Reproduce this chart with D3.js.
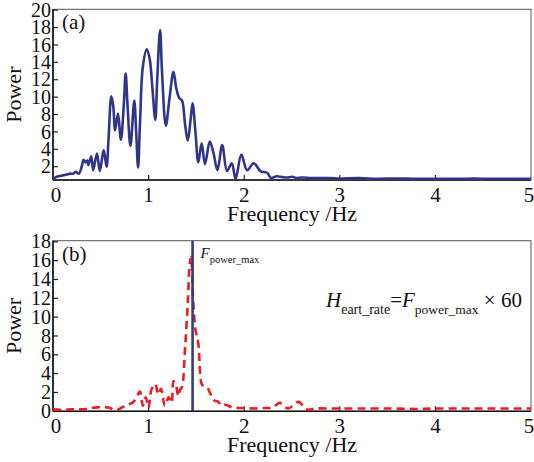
<!DOCTYPE html>
<html>
<head>
<meta charset="utf-8">
<script src="https://cdn.jsdelivr.net/npm/d3@7/dist/d3.min.js"></script>
<style>
  body { margin: 0; background: #fff; }
</style>
</head>
<body>
<div id="chart"></div>
<script>
// panel (a): power spectrum of the raw signal
var freqA  = [0, 0.03, 0.06, 0.10, 0.14, 0.18, 0.21, 0.24, 0.27, 0.30, 0.32, 0.34, 0.36, 0.37, 0.40, 0.42, 0.46, 0.49, 0.53, 0.56,
              0.58, 0.61, 0.63, 0.65, 0.68, 0.71, 0.74, 0.76, 0.78, 0.81, 0.85, 0.87, 0.89, 0.91, 0.94, 0.98, 1.01, 1.04, 1.07, 1.09,
              1.12, 1.14, 1.18, 1.22, 1.26, 1.29, 1.32, 1.35, 1.38, 1.41, 1.44, 1.46, 1.49, 1.52, 1.555, 1.59, 1.64, 1.68, 1.72, 1.77,
              1.82, 1.87, 1.91, 1.97, 2.03, 2.10, 2.17, 2.24, 2.28, 2.34, 2.40, 2.45, 2.50, 2.55, 2.60, 2.70, 2.80, 2.90, 3.00, 3.20,
              3.40, 3.60, 3.80, 4.00, 4.20, 4.40, 4.60, 4.80, 5.00];
var powerA = [0.5, 0.8, 0.9, 1.0, 1.1, 1.2, 1.2, 1.4, 1.2, 2.0, 2.8, 2.5, 2.7, 2.2, 3.2, 1.6, 3.5, 1.5, 3.9, 2.0,
              5.0, 10.1, 9.0, 6.2, 8.1, 5.1, 9.0, 12.7, 9.0, 4.4, 9.6, 6.0, 1.9, 7.0, 13.5, 15.5, 14.5, 11.0, 7.4, 12.0,
              17.7, 13.0, 6.7, 10.0, 12.9, 11.0, 9.9, 9.6, 7.0, 5.0, 7.5, 9.3, 6.0, 2.5, 4.7, 2.3, 4.9, 3.5, 1.6, 4.5,
              1.5, 2.4, 0.6, 3.4, 1.6, 2.4, 1.5, 1.3, 0.7, 0.9, 0.8, 0.75, 0.85, 0.7, 0.75, 0.7, 0.68, 0.7, 0.65, 0.68,
              0.62, 0.65, 0.6, 0.62, 0.6, 0.63, 0.6, 0.6, 0.6];

// panel (b): filtered spectrum
var freqB  = [0, 0.10, 0.20, 0.30, 0.40, 0.50, 0.58, 0.66, 0.72, 0.78, 0.83, 0.87, 0.91, 0.94, 0.97, 1.00, 1.03, 1.07, 1.10, 1.13,
              1.17, 1.21, 1.24, 1.26, 1.29, 1.31, 1.33, 1.35, 1.38, 1.41, 1.43, 1.445, 1.465, 1.49, 1.52, 1.54, 1.56, 1.61, 1.64, 1.68,
              1.73, 1.76, 1.80, 1.88, 2.00, 2.10, 2.20, 2.30, 2.37, 2.46, 2.57, 2.65, 2.75, 2.90, 3.00, 3.20, 3.50, 3.80, 4.00, 4.30,
              4.60, 5.00];
var powerB = [0.2, 0.15, 0.2, 0.2, 0.35, 0.45, 0.4, 0.1, 0.4, 0.7, 0.9, 1.4, 2.1, 0.6, 1.5, 0.4, 2.3, 2.9, 1.8, 2.4,
              0.6, 1.5, 0.9, 3.2, 2.6, 1.6, 2.3, 2.6, 6.5, 11.5, 15.6, 16.4, 12.0, 8.7, 7.2, 4.0, 2.8, 2.6, 2.0, 1.2,
              1.0, 0.6, 0.7, 0.4, 0.35, 0.3, 0.35, 0.4, 0.9, 0.3, 1.0, 0.2, 0.3, 0.3, 0.3, 0.3, 0.3, 0.25, 0.3, 0.3,
              0.3, 0.3];

var xTicks  = [0, 1, 2, 3, 4, 5];
var yTicksA = [2, 4, 6, 8, 10, 12, 14, 16, 18, 20];
var yTicksB = [0, 2, 4, 6, 8, 10, 12, 14, 16, 18];
var peakFreq = 1.46;

var W = 534, H = 462;
var svg = d3.select("#chart").append("svg")
    .attr("width", W)
    .attr("height", H)
    .attr("font-family", "'Liberation Serif', 'Times New Roman', 'DejaVu Serif', serif")
    .attr("fill", "#111");

var left = 53, right = 531;

function drawPanel(opt) {
    var x = d3.scaleLinear().domain([0, 5]).range([left, right]);
    var y = d3.scaleLinear().domain(opt.yDomain).range([opt.bottom, opt.top]);
    var g = svg.append("g");

    // frame
    g.append("rect")
        .attr("x", left).attr("y", opt.top)
        .attr("width", right - left).attr("height", opt.bottom - opt.top)
        .attr("fill", "none").attr("stroke", "#555").attr("stroke-width", 1);

    // inward ticks
    g.selectAll(".xt").data(xTicks.slice(1, -1)).enter().append("line")
        .attr("x1", d => x(d)).attr("x2", d => x(d))
        .attr("y1", opt.bottom).attr("y2", opt.bottom - 5)
        .attr("stroke", "#222").attr("stroke-width", 1.2);
    g.selectAll(".yt").data(opt.yTicks).enter().append("line")
        .attr("x1", left).attr("x2", left + 5)
        .attr("y1", d => y(d)).attr("y2", d => y(d))
        .attr("stroke", "#222").attr("stroke-width", 1.2);

    // axis lines
    g.append("line").attr("x1", left).attr("x2", left)
        .attr("y1", opt.top).attr("y2", opt.bottom)
        .attr("stroke", "#111").attr("stroke-width", 1.6);
    g.append("line").attr("x1", left).attr("x2", right)
        .attr("y1", opt.bottom).attr("y2", opt.bottom)
        .attr("stroke", "#111").attr("stroke-width", 1.6);

    // tick labels
    g.selectAll(".xl").data(xTicks).enter().append("text")
        .attr("x", d => x(d) + (d === 0 ? 3 : d === 5 ? -2 : 0))
        .attr("y", opt.bottom + 22)
        .attr("text-anchor", "middle")
        .style("font-size", "21px")
        .text(d => d);
    g.selectAll(".yl").data(opt.yTicks).enter().append("text")
        .attr("x", left - 2)
        .attr("y", d => y(d))
        .attr("dy", "0.33em")
        .attr("text-anchor", "end")
        .style("font-size", "20px")
        .text(d => d);

    // axis titles
    g.append("text")
        .attr("x", (left + right) / 2).attr("y", opt.bottom + 41)
        .attr("text-anchor", "middle")
        .style("font-size", "22px")
        .text("Frequency /Hz");
    g.append("text")
        .attr("transform", "translate(21," + ((opt.top + opt.bottom) / 2) + ") rotate(-90)")
        .attr("text-anchor", "middle")
        .style("font-size", "22px")
        .text("Power");

    // panel tag
    g.append("text")
        .attr("x", 62).attr("y", opt.top + 20)
        .style("font-size", "21px")
        .text(opt.tag);

    var line = d3.line()
        .x((d, i) => x(opt.freq[i]))
        .y(d => y(d))
        .curve(d3.curveCatmullRom.alpha(0.5));

    var clipId = "clip" + opt.tag.replace(/\W/g, "");
    svg.append("clipPath").attr("id", clipId).append("rect")
        .attr("x", left).attr("y", opt.top)
        .attr("width", right - left).attr("height", opt.bottom - opt.top);

    return {x: x, y: y, g: g, line: line, clipId: clipId};
}

// panel (a)
var pa = drawPanel({tag: "(a)", top: 9.3, bottom: 180, yDomain: [0.47, 20.1], yTicks: yTicksA, freq: freqA});
pa.g.append("path")
    .datum(powerA)
    .attr("clip-path", "url(#" + pa.clipId + ")")
    .attr("d", pa.line)
    .attr("fill", "none")
    .attr("stroke", "#2f3689")
    .attr("stroke-width", 2.6)
    .attr("stroke-linejoin", "round");

// panel (b)
var pb = drawPanel({tag: "(b)", top: 240.7, bottom: 411.3, yDomain: [0, 18.12], yTicks: yTicksB, freq: freqB});
pb.g.append("path")
    .datum(powerB)
    .attr("clip-path", "url(#" + pb.clipId + ")")
    .attr("d", pb.line)
    .attr("fill", "none")
    .attr("stroke", "#ec1c24")
    .attr("stroke-width", 2.6)
    .attr("stroke-dasharray", "8,5");

pb.g.append("line")
    .attr("x1", pb.x(peakFreq)).attr("x2", pb.x(peakFreq))
    .attr("y1", 240.7).attr("y2", 411.3)
    .attr("stroke", "#353b7c")
    .attr("stroke-width", 2.6);

// F_power_max label next to the peak line
var fl = pb.g.append("text")
    .attr("x", pb.x(peakFreq) + 8).attr("y", 258)
    .style("font-size", "15px");
fl.append("tspan").style("font-style", "italic").text("F");
fl.append("tspan").attr("dy", 5).style("font-size", "10.5px").text("power_max");

// heart-rate formula
var fm = pb.g.append("text")
    .attr("x", 326).attr("y", 307)
    .style("font-size", "21px");
fm.append("tspan").style("font-style", "italic").text("H");
fm.append("tspan").attr("dy", 7).style("font-size", "14px").text("eart_rate");
fm.append("tspan").attr("dy", -7).text("=");
fm.append("tspan").style("font-style", "italic").text("F");
fm.append("tspan").attr("dy", 7).style("font-size", "13.5px").text("power_max");
fm.append("tspan").attr("dy", -7).text(" \u00d7 60");
</script>
</body>
</html>
